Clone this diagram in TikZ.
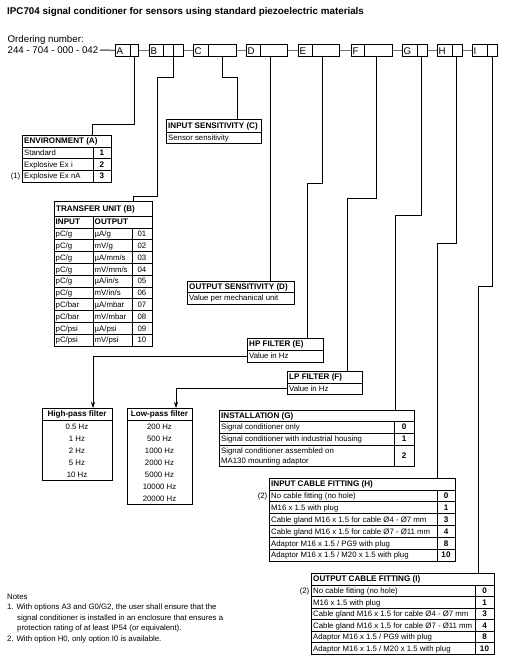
\documentclass[tikz,border=0pt]{standalone}
\usepackage{fontspec}
\setmainfont{Liberation Sans}
\usetikzlibrary{arrows.meta}
\begin{document}
\begin{tikzpicture}[x=1pt,y=-1pt,
  tbl/.style={draw, line width=0.75pt, inner sep=0pt, anchor=north west},
  codebox/.style={draw, line width=0.75pt, inner sep=0pt, anchor=north west, minimum height=12pt},
  hd/.style={font=\bfseries\fontsize{8.1}{9}\selectfont, anchor=west, inner sep=0pt, text height=5.8pt, text depth=0pt},
  tx/.style={font=\fontsize{7.8}{9}\selectfont, anchor=west, inner sep=0pt, text height=5.6pt, text depth=0pt},
  hdc/.style={hd, anchor=center},
  txc/.style={tx, anchor=center},
  nmb/.style={hd, anchor=center},
  big/.style={font=\fontsize{9.7}{11}\selectfont, anchor=west, inner sep=0pt, text height=7pt, text depth=0pt},
  titlestyle/.style={font=\bfseries\fontsize{9.8}{11}\selectfont, anchor=west, inner sep=0pt, text height=7pt, text depth=0pt},
  conn/.style={line width=0.75pt},
  grayline/.style={line width=1.5pt, black!55},
  arr/.style={conn, -{Stealth[length=6pt,width=4pt]}}
]
\useasboundingbox (0,0) rectangle (505,662);

% title and ordering number
\node[titlestyle] (title) at (7,11) {IPC704 signal conditioner for sensors using standard piezoelectric materials};
\node[big] (ordlbl) at (7.5,39) {Ordering number:};
\node[big] (ordno) at (7.5,50) {244 - 704 - 000 - 042};

% code boxes
\node[codebox, minimum width=23pt] (bA) at (115,44) {};
\node[codebox, minimum width=34pt] (bB) at (149,44) {};
\node[codebox, minimum width=43pt] (bC) at (193,44) {};
\node[codebox, minimum width=41pt] (bD) at (246,44) {};
\node[codebox, minimum width=41pt] (bE) at (298,44) {};
\node[codebox, minimum width=41pt] (bF) at (351,44) {};
\node[codebox, minimum width=25pt] (bG) at (402,44) {};
\node[codebox, minimum width=25pt] (bH) at (437,44) {};
\node[codebox, minimum width=25pt] (bI) at (472,44) {};
\foreach \x in {130,163,173,208,260,312,364,417,452,487}
  \draw[conn] (\x,44) -- (\x,56);
\node[big] (lA) at (116.5,50.5) {A};
\node[big] (lB) at (150.5,50.5) {B};
\node[big] (lC) at (194.5,50.5) {C};
\node[big] (lD) at (247.5,50.5) {D};
\node[big] (lE) at (299.5,50.5) {E};
\node[big] (lF) at (352.5,50.5) {F};
\node[big] (lG) at (403.5,50.5) {G};
\node[big] (lH) at (438.5,50.5) {H};
\node[big] (lI) at (473.5,50.5) {I};
\draw[grayline] ([xshift=1.5pt]ordno.east) -- (bA.west);
\draw[grayline] (bA.east) -- (bB.west);
\draw[grayline] (bB.east) -- (bC.west);
\draw[grayline] (bC.east) -- (bD.west);
\draw[grayline] (bD.east) -- (bE.west);
\draw[grayline] (bE.east) -- (bF.west);
\draw[grayline] (bF.east) -- (bG.west);
\draw[grayline] (bG.east) -- (bH.west);
\draw[grayline] (bH.east) -- (bI.west);

% ENVIRONMENT (A)
\node[tbl, minimum width=89pt, minimum height=47pt] (env) at (22,135) {};
\draw[conn] (22,147) -- (111,147) (22,158.5) -- (111,158.5) (22,170) -- (111,170) (93,147) -- (93,182);
\node[hd] (envh) at (24,141) {ENVIRONMENT (A)};
\node[tx] (env1) at (24,152.75) {Standard};
\node[tx] (env2) at (24,164.25) {Explosive Ex i};
\node[tx] (env3) at (24,176) {Explosive Ex nA};
\node[nmb] (env1n) at (102,152.75) {1};
\node[nmb] (env2n) at (102,164.25) {2};
\node[nmb] (env3n) at (102,176) {3};
\node[tx, anchor=east] (note1) at (20.5,176) {(1)};

% INPUT SENSITIVITY (C)
\node[tbl, minimum width=95pt, minimum height=24pt] (insens) at (166,119) {};
\draw[conn] (166,132) -- (261,132);
\node[hd] (insensh) at (168,125.5) {INPUT SENSITIVITY (C)};
\node[tx] (insenst) at (168,137.5) {Sensor sensitivity};

% TRANSFER UNIT (B)
\node[tbl, minimum width=98pt, minimum height=145pt] (trans) at (54,201) {};
\draw[conn] (54,216) -- (152,216) (54,228) -- (152,228) (93,216) -- (93,346) (132,228) -- (132,346);
\foreach \i in {1,...,9} \draw[conn] (54,228+11.8*\i) -- (152,228+11.8*\i);
\node[hd] (transh) at (56,208.5) {TRANSFER UNIT (B)};
\node[hd] (transin) at (55.5,222) {INPUT};
\node[hd] (transout) at (94.5,222) {OUTPUT};
\foreach \a/\b/\c [count=\i] in {{pC/g}/{µA/g}/01, {pC/g}/{mV/g}/02, {pC/g}/{µA/mm/s}/03, {pC/g}/{mV/mm/s}/04, {pC/g}/{µA/in/s}/05, {pC/g}/{mV/in/s}/06, {pC/bar}/{µA/mbar}/07, {pC/bar}/{mV/mbar}/08, {pC/psi}/{µA/psi}/09, {pC/psi}/{mV/psi}/10}{
  \node[tx] (tin\i) at (55.5,228+11.8*\i-5.9) {\a};
  \node[tx] (tout\i) at (94.5,228+11.8*\i-5.9) {\b};
  \node[txc] (tcode\i) at (142,228+11.8*\i-5.9) {\c};
}

% OUTPUT SENSITIVITY (D)
\node[tbl, minimum width=107pt, minimum height=23pt] (outsens) at (187,281) {};
\draw[conn] (187,292) -- (294,292);
\node[hd] (outsensh) at (189,286.5) {OUTPUT SENSITIVITY (D)};
\node[tx] (outsenst) at (189,298) {Value per mechanical unit};

% HP FILTER (E)
\node[tbl, minimum width=76pt, minimum height=24pt] (hp) at (247,338) {};
\draw[conn] (247,350) -- (323,350);
\node[hd] (hph) at (249,344) {HP FILTER (E)};
\node[tx] (hpt) at (249,356) {Value in Hz};

% LP FILTER (F)
\node[tbl, minimum width=75pt, minimum height=23pt] (lp) at (287,371) {};
\draw[conn] (287,383) -- (362,383);
\node[hd] (lph) at (289,377) {LP FILTER (F)};
\node[tx] (lpt) at (289,388.5) {Value in Hz};

% High-pass filter list
\node[tbl, minimum width=70pt, minimum height=72pt] (hpl) at (42,408) {};
\draw[conn] (42,420) -- (112,420);
\node[hdc] (hplh) at (77,414) {High-pass filter};
\foreach \v [count=\i] in {0.5 Hz,1 Hz,2 Hz,5 Hz,10 Hz}
  \node[txc] (hpv\i) at (77,426+12*\i-11.5) {\v};

% Low-pass filter list
\node[tbl, minimum width=65pt, minimum height=96pt] (lpl) at (127,408) {};
\draw[conn] (127,420) -- (192,420);
\node[hdc] (lplh) at (159.5,414) {Low-pass filter};
\foreach \v [count=\i] in {200 Hz,500 Hz,1000 Hz,2000 Hz,5000 Hz,10000 Hz,20000 Hz}
  \node[txc] (lpv\i) at (159.5,426+12*\i-11.5) {\v};

% INSTALLATION (G)
\node[tbl, minimum width=195pt, minimum height=56pt] (inst) at (219,410) {};
\draw[conn] (219,421) -- (414,421) (219,433) -- (414,433) (219,445) -- (414,445) (394,421) -- (394,466);
\node[hd] (insth) at (221,415.5) {INSTALLATION (G)};
\node[tx] (inst0) at (221,427) {Signal conditioner only};
\node[tx] (inst1) at (221,439) {Signal conditioner with industrial housing};
\node[tx] (inst2a) at (221,450.5) {Signal conditioner assembled on};
\node[tx] (inst2b) at (221,460.5) {MA130 mounting adaptor};
\node[nmb] (inst0n) at (404,427) {0};
\node[nmb] (inst1n) at (404,439) {1};
\node[nmb] (inst2n) at (404,455.5) {2};

% INPUT CABLE FITTING (H)
\node[tbl, minimum width=186pt, minimum height=83pt] (incab) at (269,478) {};
\draw[conn] (269,490) -- (455,490) (437,490) -- (437,561);
\foreach \i in {1,...,5} \draw[conn] (269,490+11.83*\i) -- (455,490+11.83*\i);
\node[hd] (incabh) at (271,484) {INPUT CABLE FITTING (H)};
\foreach \t/\n [count=\i] in {No cable fitting (no hole)/0, M16 x 1.5 with plug/1, Cable gland M16 x 1.5 for cable Ø4 - Ø7 mm/3, Cable gland M16 x 1.5 for cable Ø7 - Ø11 mm/4, Adaptor M16 x 1.5 {/} PG9 with plug/8, Adaptor M16 x 1.5 {/} M20 x 1.5 with plug/10}{
  \node[tx] (inr\i) at (271,490+11.83*\i-5.9) {\t};
  \node[nmb] (inn\i) at (446,490+11.83*\i-5.9) {\n};
}
\node[tx, anchor=east] (note2a) at (267.5,496) {(2)};

% OUTPUT CABLE FITTING (I)
\node[tbl, minimum width=183pt, minimum height=81pt] (outcab) at (311,573) {};
\draw[conn] (311,585) -- (494,585) (475,585) -- (475,654);
\foreach \i in {1,...,5} \draw[conn] (311,585+11.5*\i) -- (494,585+11.5*\i);
\node[hd] (outcabh) at (313,579) {OUTPUT CABLE FITTING (I)};
\foreach \t/\n [count=\i] in {No cable fitting (no hole)/0, M16 x 1.5 with plug/1, Cable gland M16 x 1.5 for cable Ø4 - Ø7 mm/3, Cable gland M16 x 1.5 for cable Ø7 - Ø11 mm/4, Adaptor M16 x 1.5 {/} PG9 with plug/8, Adaptor M16 x 1.5 {/} M20 x 1.5 with plug/10}{
  \node[tx] (outr\i) at (313,585+11.5*\i-5.75) {\t};
  \node[nmb] (outn\i) at (484.5,585+11.5*\i-5.75) {\n};
}
\node[tx, anchor=east] (note2b) at (309.5,590.75) {(2)};

% connectors
\draw[conn] (134,56) -- (134,124) -- (92,124) -- (92,135);
\draw[conn] (173,56) -- (173,77) -- (157,77) -- (157,196) -- (133,196) -- (133,201);
\draw[conn] (222,56) -- (222,77) -- (237,77) -- (237,119);
\draw[conn] (270,56) -- (270,281);
\draw[conn] (322,56) -- (322,183) -- (307,183) -- (307,338);
\draw[conn] (376,56) -- (376,198) -- (347,198) -- (347,371);
\draw[conn] (421,56) -- (421,215) -- (395,215) -- (395,410);
\draw[conn] (456,56) -- (456,243) -- (437,243) -- (437,478);
\draw[conn] (492,56) -- (492,286) -- (478,286) -- (478,573);
\draw[arr] (hp.west |- hpt) -- (93,356) -- (93,408);
\draw[arr] (lp.west |- lpt) -- (176,388.5) -- (176,408);

% notes
\node[tx] (notesh) at (7,597) {Notes};
\node[tx] (n1a) at (7,607) {1. With options A3 and G0/G2, the user shall ensure that the};
\node[tx] (n1b) at (17,617.5) {signal conditioner is installed in an enclosure that ensures a};
\node[tx] (n1c) at (17,628) {protection rating of at least IP54 (or equivalent).};
\node[tx] (n2) at (7,638.5) {2. With option H0, only option I0 is available.};
\end{tikzpicture}
\end{document}
